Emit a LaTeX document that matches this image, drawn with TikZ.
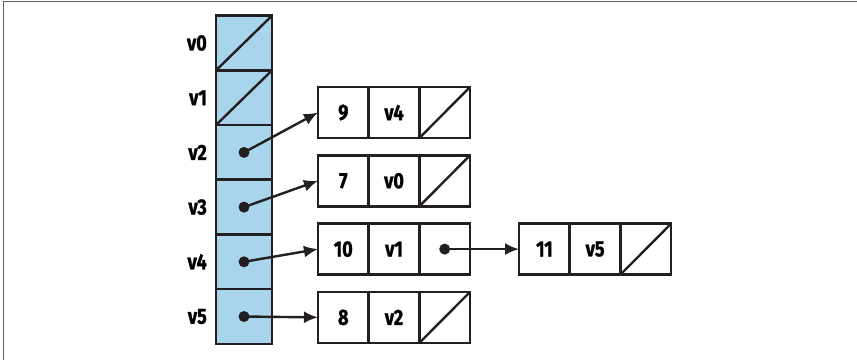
\documentclass[tikz,border=0pt]{standalone}
\usepackage{fontspec}
\setmainfont{Fira Sans}[FakeStretch=0.82, BoldFeatures={FakeBold=1.2}]
\usepackage{tikz}
\usetikzlibrary{arrows.meta,positioning}
\definecolor{slotblue}{RGB}{168,212,236}
\definecolor{inkblack}{RGB}{35,31,32}
\definecolor{framegray}{RGB}{95,95,95}

\begin{document}
\begin{tikzpicture}[
    x=1pt, y=-1pt,
    slot/.style={draw=inkblack, line width=2.6pt, fill=slotblue, minimum width=56pt, minimum height=54.7pt, outer sep=0pt, inner sep=0pt},
    cell/.style={draw=inkblack, line width=2.6pt, fill=white, minimum width=50.7pt, minimum height=51pt, outer sep=0pt, inner sep=0pt, font=\fontsize{22}{24}\selectfont\bfseries},
    nil/.style={path picture={\draw[inkblack, line width=2.4pt] (path picture bounding box.south west) -- (path picture bounding box.north east);}},
    vlabel/.style={inner sep=0pt, font=\fontsize{22}{24}\selectfont\bfseries},
    ptr/.style={draw=inkblack, line width=2.4pt, -{Latex[length=14pt,width=12pt]}},
    dot/.style={fill=inkblack}
]
    \useasboundingbox (0,0) rectangle (857,360);
    \draw[framegray, line width=1.5pt] (3.5,360) -- (3.5,1.5) -- (857,1.5);

    % adjacency array
    \node[slot, nil] (a0) at (244,43) {};
    \node[slot, nil, below=0pt of a0] (a1) {};
    \node[slot, below=0pt of a1] (a2) {};
    \node[slot, below=0pt of a2] (a3) {};
    \node[slot, below=0pt of a3] (a4) {};
    \node[slot, below=0pt of a4] (a5) {};

    \node[vlabel, left=9pt of a0] (l0) {v0};
    \node[vlabel, left=9pt of a1] (l1) {v1};
    \node[vlabel, left=9pt of a2] (l2) {v2};
    \node[vlabel, left=9pt of a3] (l3) {v3};
    \node[vlabel, left=9pt of a4] (l4) {v4};
    \node[vlabel, left=9pt of a5] (l5) {v5};

    % edge lists
    \node[cell] (p1) at (343.3,112.5) {9};
    \node[cell, right=0pt of p1] (q1) {v4};
    \node[cell, nil, right=0pt of q1] (n1) {};

    \node[cell, below=17.3pt of p1] (p2) {7};
    \node[cell, right=0pt of p2] (q2) {v0};
    \node[cell, nil, right=0pt of q2] (n2) {};

    \node[cell, below=17.3pt of p2] (p3) {10};
    \node[cell, right=0pt of p3] (q3) {v1};
    \node[cell, right=0pt of q3] (n3) {};

    \node[cell, right=49pt of n3] (p6) {11};
    \node[cell, right=0pt of p6] (q6) {v5};
    \node[cell, nil, right=0pt of q6] (n6) {};

    \node[cell, below=17.3pt of p3] (p4) {8};
    \node[cell, right=0pt of p4] (q4) {v2};
    \node[cell, nil, right=0pt of q4] (n4) {};

    % pointers
    \fill[dot] (a2.center) circle (5.5pt);
    \fill[dot] (a3.center) circle (5.5pt);
    \fill[dot] (a4.center) circle (5.5pt);
    \fill[dot] (a5.center) circle (5.5pt);
    \fill[dot] (n3.center) circle (5.5pt);

    \draw[ptr] (a2.center) -- (p1.west);
    \draw[ptr] (a3.center) -- (p2.west);
    \draw[ptr] (a4.center) -- (p3.west);
    \draw[ptr] (a5.center) -- (p4.west);
    \draw[ptr] (n3.center) -- (p6.west);
\end{tikzpicture}
\end{document}
